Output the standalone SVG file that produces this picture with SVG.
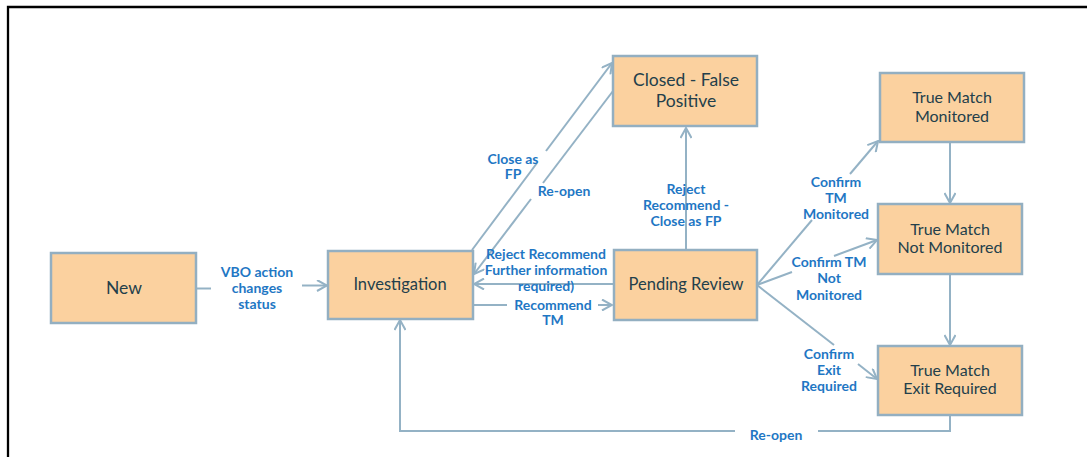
<svg xmlns="http://www.w3.org/2000/svg" width="1087" height="457" viewBox="0 0 1087 457">
<style>
.node rect{fill:#FBD19F;stroke:#93AFC1;stroke-width:2.5}
.node text{font-family:Lato,"Liberation Sans",sans-serif;fill:#233F4B;text-anchor:middle}
.edges line,.edges polyline{stroke:#94B2C5;stroke-width:2;fill:none}
.lbl{font-family:Lato,"Liberation Sans",sans-serif;font-weight:bold;font-size:14px;fill:#1F77C4;text-anchor:middle}
</style>
<defs>
<marker id="arr" viewBox="0 0 12 12" refX="11" refY="6" markerWidth="12" markerHeight="12" markerUnits="userSpaceOnUse" orient="auto">
<path d="M1,0.5 L11,6 L1,11.5" fill="none" stroke="#94B2C5" stroke-width="2"/>
</marker>
</defs>
<rect width="1087" height="457" fill="#fff"/>
<path d="M8,457 V7 H1087" fill="none" stroke="#000" stroke-width="2.3"/>

<g class="edges">
<line x1="196" y1="288.5" x2="211" y2="288.5"/>
<line x1="302" y1="285.5" x2="327" y2="285.5" marker-end="url(#arr)"/>
<line x1="472" y1="250" x2="537" y2="163"/>
<line x1="546" y1="151" x2="612" y2="63" marker-end="url(#arr)"/>
<line x1="613" y1="91" x2="543" y2="183"/>
<line x1="531" y1="199" x2="474" y2="274" marker-end="url(#arr)"/>
<line x1="613" y1="284" x2="474" y2="284" marker-end="url(#arr)"/>
<line x1="473" y1="305" x2="507" y2="305"/>
<line x1="598" y1="305" x2="612" y2="305" marker-end="url(#arr)"/>
<line x1="686" y1="250" x2="686" y2="128" marker-end="url(#arr)"/>
<line x1="757" y1="285" x2="812" y2="220"/>
<line x1="850" y1="174" x2="878" y2="141" marker-end="url(#arr)"/>
<line x1="757" y1="285" x2="792" y2="272"/>
<line x1="834" y1="256" x2="877" y2="240" marker-end="url(#arr)"/>
<line x1="757" y1="285" x2="834" y2="345"/>
<line x1="858" y1="364" x2="877" y2="379" marker-end="url(#arr)"/>
<line x1="950" y1="142" x2="950" y2="203" marker-end="url(#arr)"/>
<line x1="950" y1="274" x2="950" y2="345" marker-end="url(#arr)"/>
<polyline points="950,415 950,431 818,431"/>
<polyline points="735,431 400,431 400,320" marker-end="url(#arr)"/>
</g>

<g id="labels">
<text class="lbl" x="257" y="277">VBO action</text>
<text class="lbl" x="257" y="293">changes</text>
<text class="lbl" x="257" y="309">status</text>
<text class="lbl" x="513" y="164">Close as</text>
<text class="lbl" x="513" y="179">FP</text>
<text class="lbl" x="564" y="196">Re-open</text>
<text class="lbl" x="686" y="194">Reject</text>
<text class="lbl" x="686" y="210">Recommend -</text>
<text class="lbl" x="686" y="226">Close as FP</text>
<text class="lbl" x="546" y="259">Reject Recommend</text>
<text class="lbl" x="546" y="275">Further information</text>
<text class="lbl" x="546" y="291">required)</text>
<text class="lbl" x="553" y="310">Recommend</text>
<text class="lbl" x="553" y="325">TM</text>
<text class="lbl" x="836" y="187">Confirm</text>
<text class="lbl" x="836" y="203">TM</text>
<text class="lbl" x="836" y="219">Monitored</text>
<text class="lbl" x="829" y="267">Confirm TM</text>
<text class="lbl" x="829" y="283">Not</text>
<text class="lbl" x="829" y="300">Monitored</text>
<text class="lbl" x="829" y="359">Confirm</text>
<text class="lbl" x="829" y="375">Exit</text>
<text class="lbl" x="829" y="391">Required</text>
<text class="lbl" x="776" y="440">Re-open</text>
</g>

<g id="new" class="node"><rect x="51" y="253" width="145" height="70"/><text x="124" y="294" font-size="17.5">New</text></g>
<g id="investigation" class="node"><rect x="328" y="251" width="145" height="68"/><text x="400" y="290" font-size="16.5">Investigation</text></g>
<g id="closed" class="node"><rect x="613" y="56" width="144" height="70"/><text x="686" y="86" font-size="17.5">Closed - False</text><text x="686" y="107" font-size="17.5">Positive</text></g>
<g id="pending" class="node"><rect x="614" y="250" width="143" height="70"/><text x="686" y="290" font-size="16.5">Pending Review</text></g>
<g id="tm-monitored" class="node"><rect x="880" y="73" width="144" height="69"/><text x="952" y="103" font-size="16">True Match</text><text x="952" y="122" font-size="16">Monitored</text></g>
<g id="tm-not-monitored" class="node"><rect x="878" y="204" width="144" height="70"/><text x="950" y="235" font-size="16">True Match</text><text x="950" y="253" font-size="16">Not Monitored</text></g>
<g id="tm-exit" class="node"><rect x="878" y="346" width="144" height="69"/><text x="950" y="376" font-size="16">True Match</text><text x="950" y="394" font-size="16">Exit Required</text></g>
</svg>
